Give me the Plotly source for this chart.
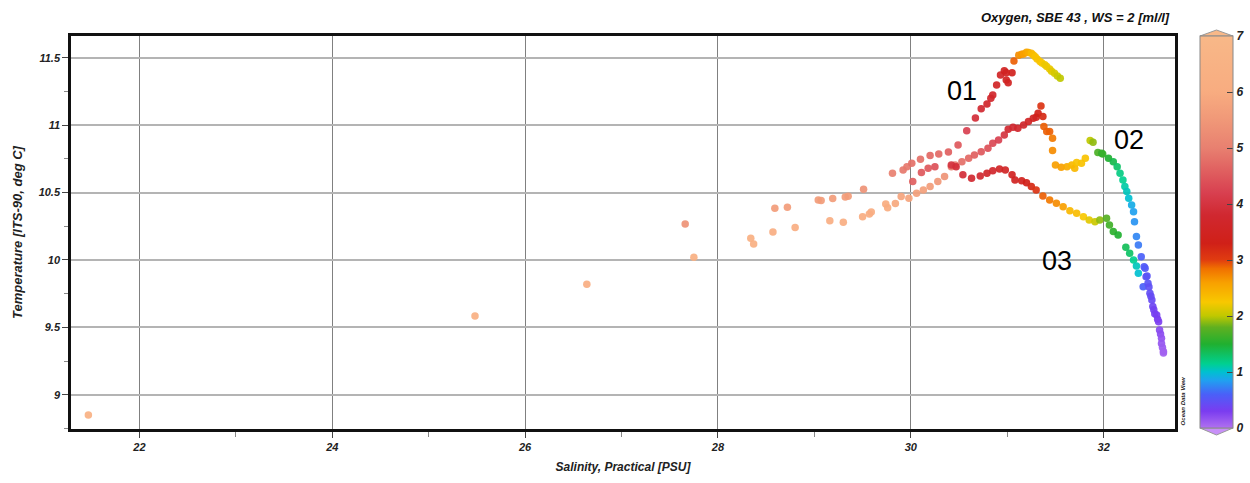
import plotly.graph_objects as go

# ---------------- data ----------------
# near-surface / low-salinity points
sal_surf = [21.47, 25.48, 26.64, 27.66, 27.75, 28.34, 28.37, 28.59, 28.72, 28.57, 28.80]
temp_surf = [8.85, 9.585, 9.82, 10.267, 10.02, 10.161, 10.119, 10.384, 10.391, 10.208, 10.24]
oxy_surf = [6.4, 6.3, 6.2, 5.4, 6.3, 6.3, 6.3, 5.6, 5.6, 6.2, 6.2]

# profile 01
sal_01 = [29.04, 29.07, 29.19, 29.32, 29.35, 29.51, 29.81, 29.92, 29.96, 30.01, 30.10, 30.20,
          30.29, 30.39, 30.49, 30.58, 30.67, 30.73, 30.79, 30.83, 30.85, 30.89, 30.93, 30.97,
          30.99, 30.99, 31.01, 31.05, 31.07, 31.12, 31.15, 31.17, 31.20, 31.22, 31.25, 31.27,
          31.29, 31.31, 31.34, 31.36, 31.39, 31.41, 31.44, 31.46, 31.49, 31.52, 31.55]
temp_01 = [10.445, 10.44, 10.455, 10.467, 10.473, 10.524, 10.643, 10.668, 10.692, 10.717, 10.747, 10.774,
           10.786, 10.801, 10.853, 10.959, 11.053, 11.122, 11.157, 11.20, 11.224, 11.298, 11.372, 11.404,
           11.389, 11.335, 11.315, 11.389, 11.476, 11.519, 11.525, 11.528, 11.54, 11.538, 11.533, 11.52,
           11.508, 11.49, 11.471, 11.46, 11.447, 11.435, 11.417, 11.40, 11.385, 11.365, 11.348]
oxy_01 = [5.6, 5.6, 5.6, 5.6, 5.6, 5.4, 5.0, 4.9, 4.9, 4.8, 4.8, 4.7,
          4.7, 4.6, 4.5, 4.2, 3.9, 3.8, 3.7, 3.7, 3.7, 3.6, 3.6, 3.5,
          3.5, 3.5, 3.5, 3.4, 2.9, 2.7, 2.65, 2.6, 2.55, 2.5, 2.4, 2.35,
          2.3, 2.3, 2.3, 2.25, 2.2, 2.2, 2.2, 2.15, 2.1, 2.05, 2.0]

# profile 02
sal_02 = [29.16, 29.30, 29.50, 29.57, 29.59, 29.74, 29.76, 29.84, 29.90, 29.98, 30.06, 30.13,
          30.20, 30.28, 30.35, 30.42, 30.46, 30.53, 30.60, 30.66, 30.73, 30.80, 30.85, 30.91,
          30.97, 31.01, 31.06, 31.11, 31.17, 31.22, 31.27, 31.30, 31.32, 31.35, 31.37, 31.38,
          31.41, 31.44, 31.47, 31.47, 31.50, 31.56, 31.62, 31.67, 31.70, 31.72, 31.77, 31.81,
          31.86, 31.89, 31.94, 31.98, 31.99, 32.05, 32.10, 32.14, 32.17, 32.20, 32.22, 32.24,
          32.26, 32.29, 32.31, 32.32, 32.34, 32.36, 32.39]
temp_02 = [10.29, 10.28, 10.32, 10.341, 10.356, 10.415, 10.388, 10.418, 10.47, 10.458, 10.495, 10.519,
           10.544, 10.581, 10.618, 10.692, 10.705, 10.729, 10.754, 10.779, 10.803, 10.829, 10.866, 10.89,
           10.927, 10.97, 10.984, 10.977, 11.001, 11.026, 11.051, 11.059, 11.088, 11.142, 11.063, 10.989,
           10.952, 10.952, 10.903, 10.811, 10.705, 10.688, 10.692, 10.705, 10.68, 10.722, 10.717, 10.754,
           10.885, 10.873, 10.796, 10.792, 10.786, 10.754, 10.729, 10.692, 10.643, 10.593, 10.544, 10.507,
           10.458, 10.408, 10.358, 10.284, 10.173, 10.111, 10.024]
oxy_02 = [6.2, 6.2, 6.1, 6.1, 6.1, 6.0, 6.0, 5.9, 5.8, 5.8, 5.7, 5.7,
          5.6, 5.5, 5.4, 5.0, 4.9, 4.8, 4.7, 4.6, 4.5, 4.4, 4.3, 4.2,
          4.0, 3.8, 3.8, 3.7, 3.7, 3.6, 3.5, 3.5, 3.3, 3.1, 3.2, 2.9,
          2.9, 2.9, 2.8, 2.7, 2.6, 2.6, 2.5, 2.4, 2.4, 2.3, 2.3, 2.3,
          2.0, 1.9, 1.7, 1.6, 1.6, 1.5, 1.4, 1.3, 1.2, 1.15, 1.1, 1.05,
          1.0, 0.9, 0.85, 0.8, 0.75, 0.7, 0.6]

# profile 03
sal_03 = [30.02, 30.11, 30.18, 30.25, 30.42, 30.47, 30.54, 30.63, 30.72, 30.79, 30.85, 30.92,
          30.98, 31.05, 31.08, 31.15, 31.20, 31.25, 31.30, 31.37, 31.44, 31.51, 31.58, 31.65,
          31.72, 31.79, 31.85, 31.91, 31.96, 32.03, 32.06, 32.10, 32.15, 32.23, 32.27, 32.31,
          32.34, 32.36, 32.41, 32.42, 32.43, 32.44, 32.45, 32.46, 32.47, 32.48, 32.49, 32.50,
          32.51, 32.52, 32.53, 32.55, 32.56, 32.57, 32.58, 32.59, 32.60, 32.60, 32.61, 32.62, 32.62]
temp_03 = [10.581, 10.648, 10.68, 10.692, 10.705, 10.692, 10.631, 10.606, 10.623, 10.643, 10.662, 10.675,
           10.668, 10.631, 10.593, 10.588, 10.573, 10.544, 10.519, 10.475, 10.445, 10.421, 10.395, 10.364,
           10.346, 10.321, 10.297, 10.284, 10.297, 10.309, 10.26, 10.21, 10.185, 10.094, 10.05, 10.0,
           9.955, 9.901, 9.802, 9.95, 9.938, 9.876, 9.88, 9.827, 9.80, 9.753, 9.73, 9.703,
           9.654, 9.63, 9.60, 9.592, 9.56, 9.542, 9.481, 9.45, 9.419, 9.38, 9.35, 9.32, 9.31]
oxy_03 = [4.6, 4.5, 4.5, 4.4, 4.0, 3.9, 3.9, 3.8, 3.8, 3.7, 3.7, 3.6,
          3.6, 3.5, 3.5, 3.4, 3.3, 3.2, 3.1, 2.9, 2.8, 2.7, 2.6, 2.4,
          2.35, 2.25, 2.15, 2.05, 1.9, 1.75, 1.65, 1.55, 1.5, 1.35, 1.3, 1.15,
          1.05, 1.0, 0.6, 0.55, 0.55, 0.5, 0.5, 0.5, 0.47, 0.45, 0.43, 0.42,
          0.38, 0.35, 0.33, 0.32, 0.3, 0.28, 0.22, 0.2, 0.17, 0.15, 0.12, 0.1, 0.08]

x_ticks = [22, 24, 26, 28, 30, 32]
y_ticks = [9, 9.5, 10, 10.5, 11, 11.5]
cbar_ticks = [0, 1, 2, 3, 4, 5, 6, 7]
labels = ["01", "02", "03"]
label_sal = [30.53, 32.26, 31.52]
label_temp = [11.25, 10.89, 9.99]

# ODV-like colour scale, oxygen 0..7
odv_scale = [
    [0.000, "#b070f0"], [0.043, "#7a3cf0"], [0.086, "#4a60f8"], [0.121, "#20a0f0"],
    [0.143, "#00c0d0"], [0.164, "#00d090"], [0.214, "#20b030"], [0.257, "#60b020"],
    [0.286, "#c0c800"], [0.321, "#f8c800"], [0.371, "#f8a000"], [0.407, "#f07000"],
    [0.429, "#e03c10"], [0.471, "#d02018"], [0.543, "#d02830"], [0.600, "#d84050"],
    [0.657, "#e06060"], [0.714, "#e88070"], [0.786, "#f09878"], [0.857, "#f8ac80"],
    [1.000, "#f8b888"],
]

FONT = "Liberation Sans, Arial, sans-serif"

fig = go.Figure()
for s, t, o in [(sal_surf, temp_surf, oxy_surf), (sal_01, temp_01, oxy_01),
                (sal_02, temp_02, oxy_02), (sal_03, temp_03, oxy_03)]:
    fig.add_trace(go.Scatter(
        x=s, y=t, mode="markers",
        marker=dict(size=7.5, color=o, coloraxis="coloraxis", opacity=0.92, line=dict(width=0)),
        showlegend=False, hoverinfo="skip"))

for lab, xs, ys in zip(labels, label_sal, label_temp):
    fig.add_annotation(x=xs, y=ys, text=lab, showarrow=False, xanchor="center", yanchor="middle",
                       font=dict(family="Liberation Sans, Arial", size=27, color="#000"))

tick_font = dict(family=FONT, size=11, color="#222", weight="bold", style="italic")
title_font = dict(family=FONT, size=12, color="#222", weight="bold", style="italic")

fig.update_layout(
    width=1250, height=483,
    margin=dict(l=71, r=75, t=36, b=54, autoexpand=False),
    paper_bgcolor="white", plot_bgcolor="white",
    coloraxis=dict(
        cmin=0, cmax=7, colorscale=odv_scale,
        colorbar=dict(
            x=1.0226, xanchor="left", xpad=0, y=0.501, yanchor="middle", ypad=0,
            lenmode="pixels", len=392, thickness=33, thicknessmode="pixels",
            outlinewidth=1, outlinecolor="#888",
            tickvals=cbar_ticks, ticks="inside", ticklen=6, tickcolor="#444", tickwidth=1,
            tickfont=dict(family=FONT, size=12, color="#222", weight="bold", style="italic"),
        ),
    ),
    xaxis=dict(
        range=[21.29, 32.74], tickvals=x_ticks, ticktext=[str(v) for v in x_ticks],
        showgrid=True, gridcolor="#808080", gridwidth=1,
        showline=True, linecolor="#111", linewidth=2.5, mirror=True,
        ticks="outside", ticklen=6, tickcolor="#444",
        minor=dict(tickvals=[23, 25, 27, 29, 31], ticks="outside", ticklen=5, tickcolor="#888", showgrid=False),
        tickfont=tick_font, zeroline=False, automargin=False,
        title=dict(text="Salinity, Practical [PSU]", font=title_font, standoff=11),
    ),
    yaxis=dict(
        range=[8.746, 11.661], tickvals=y_ticks, ticktext=["9", "9.5", "10", "10.5", "11", "11.5"],
        showgrid=True, gridcolor="#b4b4b4", gridwidth=1.5,
        showline=True, linecolor="#111", linewidth=2.5, mirror=True,
        ticks="outside", ticklen=6, tickcolor="#444",
        minor=dict(dtick=0.25, ticks="outside", ticklen=4, tickcolor="#888", showgrid=False),
        tickfont=tick_font, zeroline=False, automargin=False,
        title=dict(text="Temperature [ITS-90, deg C]", font=dict(family=FONT, size=13, color="#222", weight="bold", style="italic"), standoff=14),
    ),
)

# title
fig.add_annotation(xref="paper", yref="paper", x=0.9973, y=1.048, xanchor="right", yanchor="middle",
                   text="Oxygen, SBE 43 , WS = 2 [ml/l]", showarrow=False,
                   font=dict(family=FONT, size=13, color="#111", weight="bold", style="italic"))
# ODV watermark
fig.add_annotation(xref="paper", yref="paper", x=1.0075, y=0.071, xanchor="center", yanchor="middle",
                   text="Ocean Data View", showarrow=False, textangle=-90,
                   font=dict(family=FONT, size=6, color="#222", weight="bold", style="italic"))

# colorbar end arrows
xl, xr, xc = 1.02264, 1.05254, 1.03759
fig.add_shape(type="path", xref="paper", yref="paper",
              path=f"M {xl},1.0 L {xc},1.0153 L {xr},1.0 Z",
              fillcolor="#f8b888", line=dict(color="#999", width=1))
fig.add_shape(type="path", xref="paper", yref="paper",
              path=f"M {xl},0.0025 L {xc},-0.0153 L {xr},0.0025 Z",
              fillcolor="#c890f8", line=dict(color="#999", width=1))

fig.write_html("out.html")
